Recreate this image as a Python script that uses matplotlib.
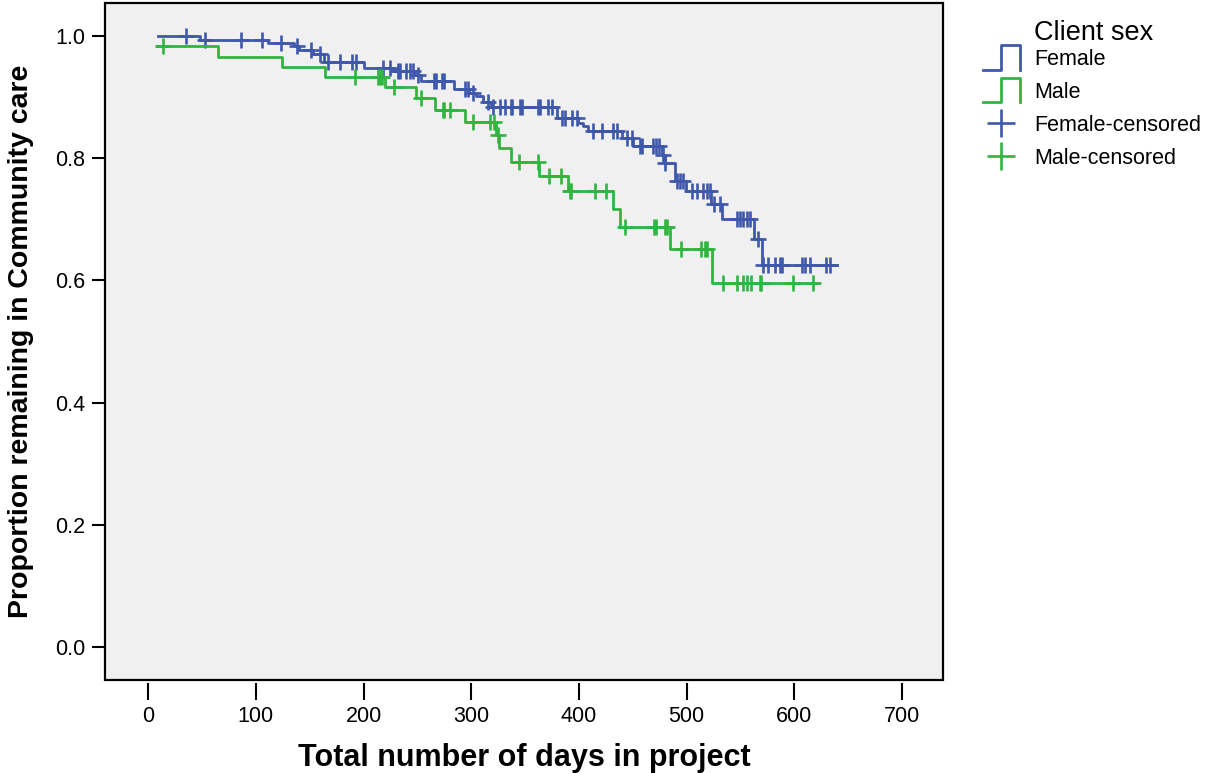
import numpy as np
import matplotlib
matplotlib.use("Agg")
import matplotlib.pyplot as plt
from matplotlib.lines import Line2D
from matplotlib.patches import Rectangle
from matplotlib.legend_handler import HandlerBase

plt.rcParams['font.family'] = ['Liberation Sans', 'DejaVu Sans']

# Kaplan-Meier estimates, days in project vs proportion still in community care
female_start, female_end, female_s0 = 9, 640, 1.0
female_event_days = [48, 111, 135, 140, 153, 163, 200, 228, 248, 253, 284, 297.5,
                     304, 311, 318, 380, 399, 404, 408, 440, 450, 477, 479.5, 489,
                     499, 523, 533, 563, 570]
female_event_surv = [0.994, 0.988, 0.983, 0.977, 0.970, 0.958, 0.947, 0.942, 0.936,
                     0.927, 0.913, 0.906, 0.901, 0.892, 0.884, 0.866, 0.858, 0.852,
                     0.845, 0.833, 0.820, 0.806, 0.792, 0.762, 0.746, 0.725, 0.701,
                     0.668, 0.626]
female_censored = [35, 53, 86, 106, 123, 138, 151, 160, 167, 178, 189, 193, 218, 225,
                   232, 234, 239, 243, 246, 251, 265, 267, 273, 275, 294, 297, 302,
                   316, 320, 327, 331, 337, 338, 345, 347, 362, 364, 371, 375, 384,
                   387, 394, 398, 413, 421, 432, 435, 445, 449, 457, 459, 469, 472,
                   474, 478, 480, 491, 494, 497, 505, 510, 515, 519, 522, 525, 531,
                   547, 550, 552, 556, 559, 566, 571, 576, 582, 587, 589, 607, 610,
                   615, 629, 633]

male_start, male_end, male_s0 = 8, 621, 0.983
male_event_days = [65, 124, 164, 220, 249, 266, 294, 323, 326, 337, 363, 390, 432,
                   438, 485, 524]
male_event_surv = [0.966, 0.950, 0.933, 0.917, 0.898, 0.879, 0.859, 0.838, 0.817,
                   0.794, 0.771, 0.747, 0.717, 0.688, 0.651, 0.596]
male_censored = [14, 192, 213, 215, 217, 228, 253, 274, 275, 280, 302, 317, 321,
                 324.5, 344, 362, 372, 383, 392, 393, 415, 425, 443, 470, 472, 480,
                 482, 495, 513, 517, 519, 534, 547, 552, 556, 560, 568, 569, 599, 617]

BLUE = '#3F58AB'
GREEN = '#30B540'


def level_at(t, days, surv, s0):
    idx = np.searchsorted(days, t, side='right') - 1
    surv = np.asarray(surv)
    return np.where(idx >= 0, surv[np.clip(idx, 0, None)], s0)


def step_xy(start, end, days, surv, s0):
    x = [start] + list(days) + [end]
    y = [s0] + list(surv) + [surv[-1]]
    return x, y


class StepHandler(HandlerBase):
    def create_artists(self, legend, orig_handle, xdescent, ydescent,
                       width, height, fontsize, trans):
        x0, x1 = -xdescent, -xdescent + width
        xm = (x0 + x1) / 2
        y0, y1 = -ydescent - 0.3 * height, -ydescent + 1.3 * height
        ln = Line2D([x0, xm, xm, x1, x1], [y0, y0, y1, y1, y0],
                    color=orig_handle.get_color(), lw=orig_handle.get_linewidth())
        ln.set_transform(trans)
        return [ln]


fig = plt.figure(figsize=(12.1, 7.73), dpi=100)
ax = fig.add_axes([0.0868, 0.1203, 0.6925, 0.8758])
ax.set_facecolor('#F0F0F0')

series = [
    (female_start, female_end, female_event_days, female_event_surv, female_s0,
     female_censored, BLUE),
    (male_start, male_end, male_event_days, male_event_surv, male_s0,
     male_censored, GREEN),
]
step_lines, cens_marks = [], []
for start, end, days, surv, s0, cens, col in series:
    x, y = step_xy(start, end, days, surv, s0)
    ln, = ax.step(x, y, where='post', color=col, lw=2.0)
    cy = level_at(cens, days, surv, s0)
    mk, = ax.plot(cens, cy, ls='none', marker='+', ms=11, mew=1.9, color=col)
    step_lines.append(ln)
    cens_marks.append(mk)

ax.set_xlim(-40, 738)
ax.set_ylim(-0.054, 1.054)
ax.set_xticks(np.arange(0, 701, 100))
ax.set_yticks(np.arange(0, 1.01, 0.2))
ax.set_yticklabels(['%.1f' % v for v in np.arange(0, 1.01, 0.2)])

for s in ax.spines.values():
    s.set_visible(False)
ax.spines['bottom'].set_position(('outward', 2))
ax.add_patch(Rectangle((0, 0), 1, 1, transform=ax.transAxes, fill=False,
                       ec='black', lw=1.6, clip_on=False, zorder=5))

ax.tick_params(axis='x', direction='out', length=12, width=1.5, pad=5,
               labelsize=15.5)
ax.tick_params(axis='y', direction='out', length=9.5, width=1.5, pad=5,
               labelsize=15.5)

ax.set_xlabel('Total number of days in project', fontsize=22, fontweight='bold')
ax.xaxis.set_label_coords(0.5, -0.093)
ax.set_ylabel('Proportion remaining in Community care', fontsize=20.5,
              fontweight='bold')
ax.yaxis.set_label_coords(-0.085, 0.5)

fig.text(1034 / 1210, 1 - 33 / 773, 'Client sex', fontsize=19.5,
         ha='left', va='center')
fig.legend(step_lines + cens_marks,
           ['Female', 'Male', 'Female-censored', 'Male-censored'],
           handler_map={step_lines[0]: StepHandler(), step_lines[1]: StepHandler()},
           loc='upper left', bbox_to_anchor=(983 / 1210, 1 - 49 / 773),
           frameon=False, fontsize=15.5, borderpad=0, borderaxespad=0,
           handlelength=1.7, handletextpad=0.7, labelspacing=0.55,
           markerscale=1.8)

fig.savefig('out.png', dpi=100)
